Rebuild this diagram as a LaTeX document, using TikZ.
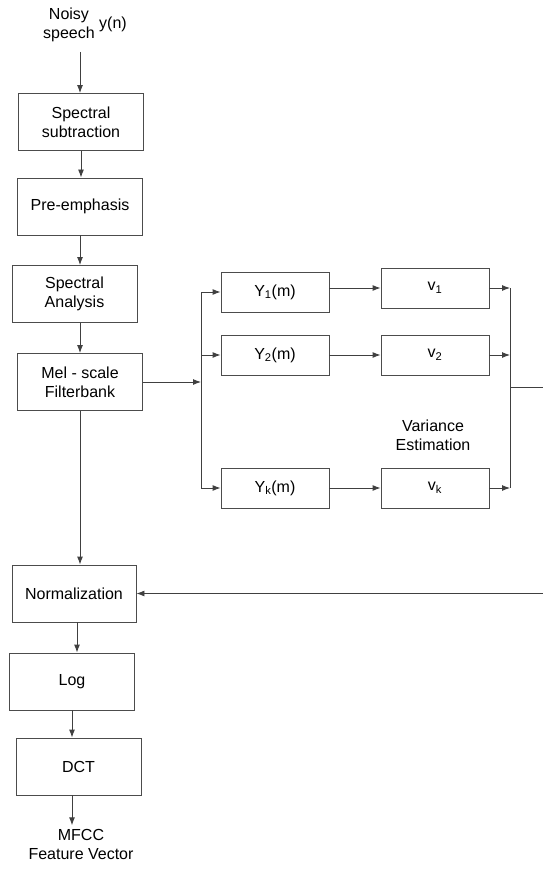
\documentclass[tikz,border=0pt]{standalone}
\usepackage{fontspec}
\setmainfont{Liberation Sans}
\usetikzlibrary{arrows.meta,calc}

\tikzset{
  blockbox/.style={draw=black!70, line width=0.9pt, align=center, inner sep=0pt,
                   font=\fontsize{16}{19}\selectfont},
  bigbox/.style={blockbox, minimum width=125pt, minimum height=57pt},
  smallbox/.style={blockbox, minimum width=108pt, minimum height=40pt},
  plain/.style={align=center, font=\fontsize{16}{19}\selectfont},
  flow/.style={draw=black!75, line width=0.9pt, -{Latex[length=8pt,width=6pt]}},
  wire/.style={draw=black!75, line width=0.9pt}
}
\newcommand{\sub}[2]{#1\textsubscript{#2}}

\begin{document}
\begin{tikzpicture}[x=1pt, y=-1pt]
 \useasboundingbox (0,0) rectangle (542,869);

 %main chain
 \node[plain] (in) at (69,25) {Noisy\\speech};
 \node[plain] (yn) at (113,24) {y(n)};
 \coordinate (src) at (80,52);

 \node[bigbox] (sub) at (81,122) {Spectral\\subtraction};
 \node[bigbox] (pre) at (80,206.5) {Pre-emphasis};
 \node[bigbox] (ana) at (74.5,294) {Spectral\\Analysis};
 \node[bigbox] (mel) at (80,382) {Mel - scale\\Filterbank};

 \node[bigbox, minimum width=124pt] (norm) at (74,593.5) {Normalization};
 \node[bigbox] (log) at (72,681.5) {Log};
 \node[bigbox] (dct) at (78.5,766.5) {DCT};
 \node[plain] (out) at (81,844) {MFCC\\Feature Vector};

 %branches
 \node[smallbox] (y1) at (275,292) {\sub{Y}{1}(m)};
 \node[smallbox] (y2) at (275,355) {\sub{Y}{2}(m)};
 \node[smallbox] (yk) at (275,488) {\sub{Y}{k}(m)};

 \node[smallbox] (v1) at (435,288) {\sub{v}{1}};
 \node[smallbox] (v2) at (435,355) {\sub{v}{2}};
 \node[smallbox] (vk) at (435,488) {\sub{v}{k}};

 \node[plain] (var) at (433,435) {Variance\\Estimation};

 \coordinate (split) at (201,382);
 \coordinate (merge) at (510,387);
 \coordinate (ret) at (548,387);

 %arrows down
 \draw[flow] (src) -- (src |- sub.north);
 \draw[flow] (sub.south) -- (sub.south |- pre.north);
 \draw[flow] (pre.south) -- (pre.south |- ana.north);
 \draw[flow] (ana.south -| mel) -- (mel.north);
 \draw[flow] (mel.south) -- (mel.south |- norm.north);
 \draw[flow] ($(norm.south)+(3,0)$) -- ($(norm.south |- log.north)+(3,0)$);
 \draw[flow] (log.south) -- (log.south |- dct.north);
 \draw[flow] (dct.south -| log) -- (out.north -| log);

 %split
 \draw[flow] (mel.east) -- (split);
 \draw[wire] (split |- y1) -- (split |- yk);
 \foreach \n in {y1,y2,yk} {
   \draw[flow] (split |- \n) -- (\n.west);
 }
 \draw[flow] (y1.east |- v1) -- (v1.west);
 \draw[flow] (y2.east) -- (v2.west);
 \draw[flow] (yk.east) -- (vk.west);

 %merge
 \foreach \n in {v1,v2,vk} {
   \draw[flow] (\n.east) -- (\n.east -| merge);
 }
 \draw[wire] (merge |- v1) -- (merge |- vk);
 \draw[flow] (merge) -- (ret) -- (ret |- norm) -- (norm.east);

\end{tikzpicture}
\end{document}
